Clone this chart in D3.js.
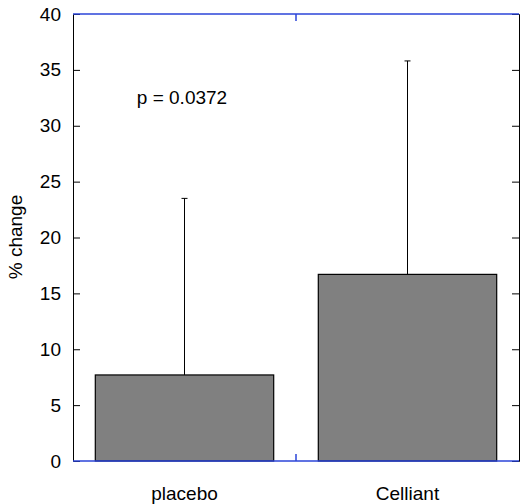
<!DOCTYPE html><html><head><script src="https://cdn.jsdelivr.net/npm/d3@7"></script>
<style>body{margin:0;background:#fff}text{font-family:"Liberation Sans",Arial,sans-serif}</style></head><body><svg id="c" width="520" height="504"></svg>
<script>
const categories=["placebo","Celliant"];
const values=[7.7,16.7];
const errorTop=[23.5,35.8];
const yTicks=[0,5,10,15,20,25,30,35,40];
const L=73,R=519,T=14,B=461;
const svg=d3.select("#c");
const x=d3.scaleBand().domain(categories).range([L,R]).paddingInner(0.2).paddingOuter(0.1);
const y=d3.scaleLinear().domain([0,40]).range([B,T]);
svg.selectAll(".bar").data(categories).enter().append("rect")
 .attr("x",d=>x(d)).attr("width",x.bandwidth())
 .attr("y",(d,i)=>y(values[i])).attr("height",(d,i)=>B-y(values[i]))
 .attr("fill","#808080").attr("stroke","#000").attr("stroke-width",1.2);
categories.forEach((c,i)=>{
 const cx=x(c)+x.bandwidth()/2;
 svg.append("line").attr("x1",cx).attr("x2",cx).attr("y1",y(values[i])).attr("y2",y(errorTop[i])).attr("stroke","#000");
 svg.append("line").attr("x1",cx-3).attr("x2",cx+3).attr("y1",y(errorTop[i])).attr("y2",y(errorTop[i])).attr("stroke","#000");
});
const ya=svg.append("g").attr("transform",`translate(${L},0)`).call(d3.axisLeft(y).tickValues(yTicks).tickSize(-7).tickPadding(12));
ya.select(".domain").attr("stroke","#000");
ya.selectAll("text").attr("font-size",19).attr("fill","#000");
ya.selectAll(".tick line").filter(d=>d===0||d===40).remove();
const yr=svg.append("g").attr("transform",`translate(${R},0)`).call(d3.axisRight(y).tickValues(yTicks.filter(d=>d>0&&d<40)).tickSize(-7).tickFormat(""));
yr.select(".domain").attr("stroke","#000");
svg.append("line").attr("x1",L).attr("x2",R).attr("y1",B).attr("y2",B).attr("stroke","#2b45d8").attr("stroke-width",1.5);
svg.append("line").attr("x1",L).attr("x2",R).attr("y1",T).attr("y2",T).attr("stroke","#2b45d8").attr("stroke-width",1.5);
const mid=(L+R)/2;
svg.append("line").attr("x1",mid).attr("x2",mid).attr("y1",B).attr("y2",B-7).attr("stroke","#2b45d8").attr("stroke-width",1.5);
svg.append("line").attr("x1",mid).attr("x2",mid).attr("y1",T).attr("y2",T+7).attr("stroke","#2b45d8").attr("stroke-width",1.5);
svg.selectAll(".xl").data(categories).enter().append("text").attr("x",d=>x(d)+x.bandwidth()/2).attr("y",500)
 .attr("text-anchor","middle").attr("font-size",19).text(d=>d);
svg.append("text").attr("transform","translate(22,237) rotate(-90)").attr("text-anchor","middle").attr("font-size",19).text("% change");
svg.append("text").attr("x",182).attr("y",104).attr("text-anchor","middle").attr("font-size",19).text("p = 0.0372");
</script></body></html>
